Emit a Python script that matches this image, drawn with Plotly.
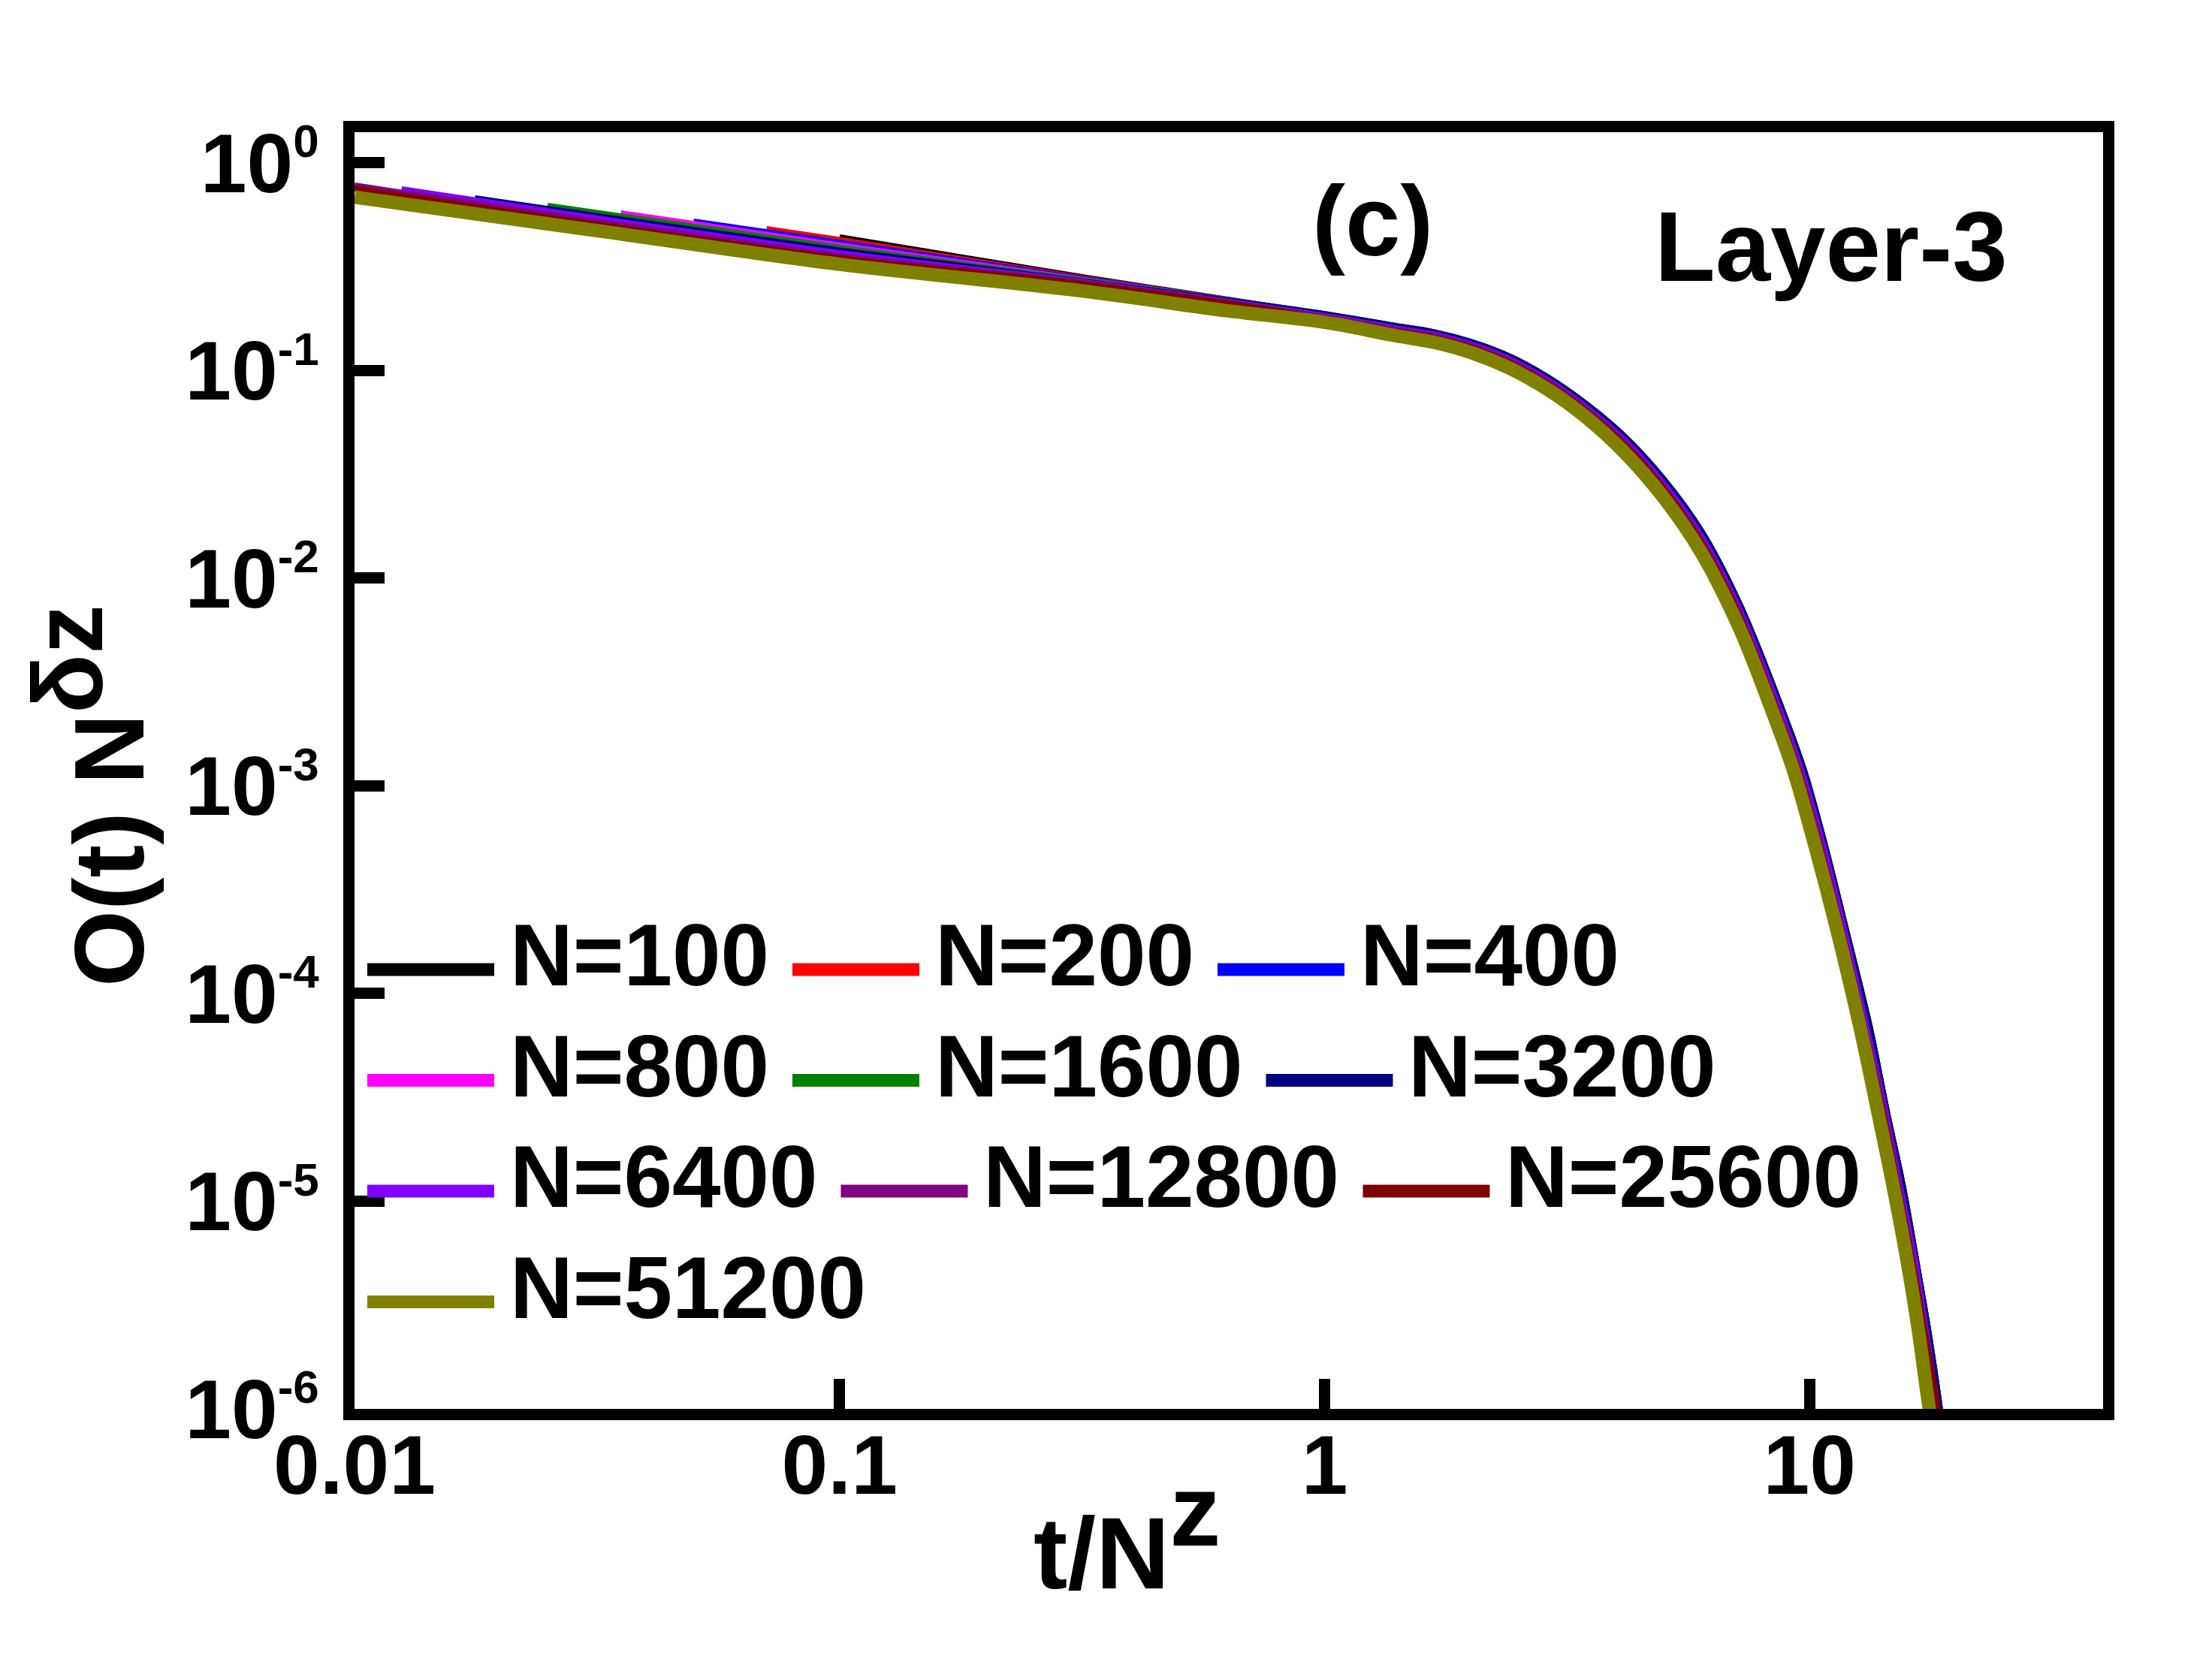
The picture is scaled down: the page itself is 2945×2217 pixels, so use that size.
import plotly.graph_objects as go

# Sizes N and colours of the ten curves (legend order)
SIZES = [100, 200, 400, 800, 1600, 3200, 6400, 12800, 25600, 51200]
COLORS = ["#000000", "#FF0000", "#0000FF", "#FF00FF", "#008000",
          "#000080", "#8000FF", "#800080", "#800000", "#808000"]

# Shoulder x grid shared by all curves, and tail levels shared by all curves
X_SHOULDER = [1.0, 1.40, 1.68, 2.01, 2.41, 2.89, 3.47, 4.16, 4.99, 5.99, 7.18]
Y_TAIL = [2.4e-3, 1.2e-3, 5.4e-4, 2.0e-4, 6.9e-5, 2.75e-5, 1.15e-5,
          4.7e-6, 2.3e-6, 1.26e-6, 8.7e-7]

# x where each curve reaches the Y_TAIL levels
X_TAIL_OUTER = [8.73, 9.72, 10.7, 11.9, 13.3, 14.4, 15.6, 16.7, 17.6, 18.3, 18.7]
X_TAIL_6400 = [8.63, 9.60, 10.6, 11.8, 13.1, 14.3, 15.4, 16.6, 17.4, 18.1, 18.5]
X_TAIL_12800 = [8.55, 9.51, 10.5, 11.7, 13.0, 14.2, 15.3, 16.4, 17.2, 17.9, 18.3]
X_TAIL_25600 = [8.49, 9.45, 10.4, 11.6, 12.9, 14.1, 15.2, 16.4, 17.3, 18.1, 18.5]
X_TAIL_51200 = [8.31, 9.25, 10.2, 11.4, 12.7, 13.8, 14.9, 16.0, 16.8, 17.4, 17.8]

# early part of each curve (starts at t = 1, i.e. t/N^z = N^-0.5)
X_N100 = [0.1, 0.316]
Y_N100 = [0.438, 0.282]
X_N200 = [0.0707, 0.1, 0.316]
Y_N200 = [0.480, 0.426, 0.279]
X_N400 = [0.05, 0.1, 0.316]
Y_N400 = [0.522, 0.413, 0.277]
X_N800 = [0.0354, 0.1, 0.316]
Y_N800 = [0.572, 0.401, 0.274]
X_N1600 = [0.025, 0.1, 0.316]
Y_N1600 = [0.622, 0.390, 0.272]
X_N3200 = [0.0177, 0.1, 0.316]
Y_N3200 = [0.676, 0.379, 0.269]
X_N6400 = [0.0125, 0.1, 0.316]
Y_N6400 = [0.747, 0.368, 0.267]
X_N12800 = [0.01, 0.1, 0.316]
Y_N12800 = [0.778, 0.357, 0.264]
X_N25600 = [0.01, 0.1, 0.316]
Y_N25600 = [0.753, 0.347, 0.262]
X_N51200 = [0.01, 0.0316, 0.1, 0.316, 0.631]
Y_N51200 = [0.684, 0.472, 0.325, 0.242, 0.194]

# shoulder values on X_SHOULDER
S_N100 = [0.186, 0.163, 0.152, 0.136, 0.1155, 0.0916, 0.0680, 0.0475, 0.0298, 0.0165, 0.00737]
S_N200 = [0.186, 0.163, 0.152, 0.136, 0.1156, 0.0917, 0.0681, 0.0476, 0.0299, 0.0165, 0.00739]
S_N400 = [0.186, 0.163, 0.152, 0.136, 0.1158, 0.0919, 0.0682, 0.0477, 0.0299, 0.0166, 0.00741]
S_N800 = [0.187, 0.164, 0.153, 0.137, 0.1166, 0.0925, 0.0686, 0.0479, 0.0301, 0.0167, 0.00744]
S_N1600 = [0.187, 0.164, 0.153, 0.137, 0.1166, 0.0925, 0.0686, 0.0479, 0.0301, 0.0167, 0.00744]
S_N3200 = [0.187, 0.164, 0.153, 0.137, 0.1167, 0.0926, 0.0687, 0.0480, 0.0302, 0.0168, 0.00747]
S_N6400 = [0.1832, 0.1597, 0.1492, 0.1334, 0.1132, 0.0896, 0.0663, 0.0460, 0.0287, 0.01579, 0.00700]
S_N12800 = [0.1806, 0.1572, 0.1468, 0.1311, 0.1110, 0.0879, 0.0649, 0.0448, 0.0278, 0.01525, 0.00673]
S_N25600 = [0.1781, 0.1546, 0.1441, 0.1286, 0.1088, 0.0860, 0.0634, 0.0436, 0.0270, 0.01469, 0.00645]
S_N51200 = [0.1709, 0.1472, 0.1368, 0.1218, 0.1025, 0.0809, 0.0593, 0.0402, 0.0246, 0.0132, 0.0057]

X_TICKS = [0.01, 0.1, 1, 10]
X_TICK_TEXT = ["0.01", "0.1", "1", "10"]
Y_TICKS = [1, 1e-1, 1e-2, 1e-3, 1e-4, 1e-5, 1e-6]
Y_EXPONENTS = ["0", "-1", "-2", "-3", "-4", "-5", "-6"]

LEGEND_ROWS = [[100, 200, 400], [800, 1600, 3200], [6400, 12800, 25600], [51200]]

FONT = "Liberation Sans, Arial, sans-serif"

# plot area in pixels
W, H = 2945, 2217
PL, PR, PT, PB = 464, 2792, 168, 1868


def px_x(px):
    return (px - PL) / (PR - PL)


def px_y(py):
    return (PB - py) / (PB - PT)


def text_width(s, size):
    """Rough advance width of bold Arial text."""
    widths = {"N": 0.722, "=": 0.584}
    return sum(widths.get(c, 0.556) for c in s) * size


curves = {
    100: (X_N100 + X_SHOULDER + X_TAIL_OUTER, Y_N100 + S_N100 + Y_TAIL),
    200: (X_N200 + X_SHOULDER + X_TAIL_OUTER, Y_N200 + S_N200 + Y_TAIL),
    400: (X_N400 + X_SHOULDER + X_TAIL_OUTER, Y_N400 + S_N400 + Y_TAIL),
    800: (X_N800 + X_SHOULDER + X_TAIL_OUTER, Y_N800 + S_N800 + Y_TAIL),
    1600: (X_N1600 + X_SHOULDER + X_TAIL_OUTER, Y_N1600 + S_N1600 + Y_TAIL),
    3200: (X_N3200 + X_SHOULDER + X_TAIL_OUTER, Y_N3200 + S_N3200 + Y_TAIL),
    6400: (X_N6400 + X_SHOULDER + X_TAIL_6400, Y_N6400 + S_N6400 + Y_TAIL),
    12800: (X_N12800 + X_SHOULDER + X_TAIL_12800, Y_N12800 + S_N12800 + Y_TAIL),
    25600: (X_N25600 + X_SHOULDER + X_TAIL_25600, Y_N25600 + S_N25600 + Y_TAIL),
    51200: (X_N51200 + X_SHOULDER + X_TAIL_51200, Y_N51200 + S_N51200 + Y_TAIL),
}
color_of = dict(zip(SIZES, COLORS))

fig = go.Figure()
for n in SIZES:
    xs, ys = curves[n]
    fig.add_trace(
        go.Scatter(
            x=xs, y=ys, mode="lines", name=f"N={n}",
            line={"color": color_of[n], "width": 18 if n == 51200 else 8,
                  "shape": "spline", "smoothing": 1.0},
            showlegend=False,
        )
    )

# hand-made legend (thick sample lines like the original)
shapes = []
annotations = []
row_y = 1283
for row in LEGEND_ROWS:
    cursor = 481
    for n in row:
        label = f"N={n}"
        shapes.append(dict(type="line", xref="paper", yref="paper",
                           x0=px_x(cursor), x1=px_x(cursor + 169),
                           y0=px_y(row_y), y1=px_y(row_y),
                           line={"color": color_of[n], "width": 17}))
        tx = cursor + 169 + 19
        annotations.append(dict(text=label, xref="paper", yref="paper",
                                x=px_x(tx), y=px_y(row_y - 19),
                                xanchor="left", yanchor="middle", showarrow=False,
                                font={"family": FONT, "size": 116, "color": "black",
                                      "weight": "bold"}))
        cursor = tx + text_width(label, 116) + 33
    row_y += 147.5

annotations += [
    dict(text="(c)", xref="paper", yref="paper", x=px_x(1819), y=px_y(286),
         xanchor="center", yanchor="middle", showarrow=False,
         font={"family": FONT, "size": 132, "color": "black", "weight": "bold"}),
    dict(text="Layer-3", xref="paper", yref="paper", x=px_x(2430), y=px_y(321),
         xanchor="center", yanchor="middle", showarrow=False,
         font={"family": FONT, "size": 132, "color": "black", "weight": "bold"}),
    dict(text='t/N<sup><span style="font-size:136px">z</span></sup>',
         xref="paper", yref="paper", x=px_x(1492), y=px_y(2031),
         xanchor="center", yanchor="middle", showarrow=False,
         font={"family": FONT, "size": 136, "color": "black", "weight": "bold"}),
    dict(text='O(t) N<sup><span style="font-size:131px">δz</span></sup>',
         xref="paper", yref="paper", x=px_x(110), y=px_y(1052),
         xanchor="center", yanchor="middle", showarrow=False, textangle=-90,
         font={"family": FONT, "size": 131, "color": "black", "weight": "bold"}),
]

axis_common = dict(
    showline=True, linewidth=15, linecolor="black", mirror=True,
    ticks="inside", ticklen=40, tickwidth=15, tickcolor="black",
    showgrid=False, zeroline=False,
    tickfont={"family": FONT, "size": 111, "color": "black", "weight": "bold"},
)

fig.update_xaxes(type="log", range=[-2, 1.605], tickvals=X_TICKS, ticktext=X_TICK_TEXT,
                 ticklabelstandoff=-35, **axis_common)
fig.update_yaxes(type="log", range=[-6, 0.148], tickvals=Y_TICKS,
                 ticktext=[f'10<sup><span style="font-size:62px">{e}</span></sup>'
                           for e in Y_EXPONENTS],
                 ticklabelstandoff=10, **axis_common)

fig.update_layout(
    width=W, height=H,
    margin={"l": PL, "r": W - PR, "t": PT, "b": H - PB, "pad": 0},
    plot_bgcolor="white", paper_bgcolor="white",
    showlegend=False,
    shapes=shapes, annotations=annotations,
)

fig.write_html("out.html")
